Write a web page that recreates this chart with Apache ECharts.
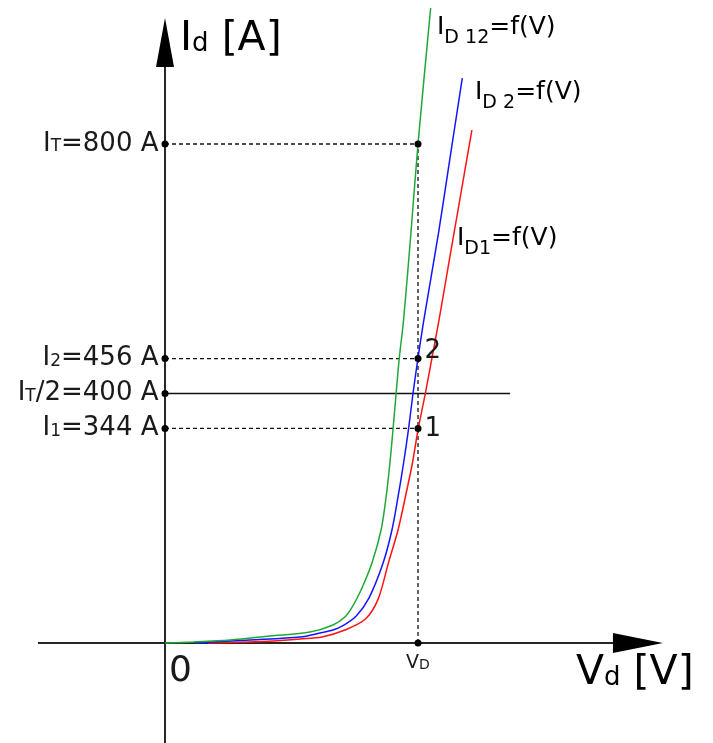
<!DOCTYPE html>
<html>
<head>
<meta charset="utf-8">
<script src="https://cdn.jsdelivr.net/npm/echarts@6/dist/echarts.min.js"></script>
<style>
  html, body { margin: 0; padding: 0; background: #fff; }
  #chart { width: 713px; height: 743px; }
</style>
</head>
<body>
<div id="chart"></div>
<script>
  // voltage axis is measured in units of V_D (V_D = 1), current in A
  const vD = 1;

  // I_D12 = f(V)  (green)
  const voltD12 = [0, 0.111, 0.257, 0.415, 0.573, 0.664, 0.712, 0.743, 0.775, 0.818, 0.854, 0.874, 0.889, 0.901, 0.914, 0.926, 0.943, 0.972, 1.000, 1.050];
  const ampD12 = [0, 1.6, 4.8, 11.2, 17.6, 28.9, 42.0, 60.0, 85.0, 128.3, 181.2, 234.1, 288.6, 341.5, 402.4, 456.9, 517.8, 657.3, 800.0, 1018.0];

  // I_D2 = f(V)  (blue)
  const voltD2 = [0.119, 0.336, 0.534, 0.613, 0.664, 0.700, 0.755, 0.806, 0.862, 0.897, 0.921, 0.943, 0.962, 0.981, 1.000, 1.023, 1.081, 1.121, 1.175];
  const ampD2 = [0, 4.8, 9.6, 16.0, 20.8, 27.0, 43.0, 72.1, 128.3, 181.2, 234.1, 288.6, 341.5, 402.4, 456.9, 517.8, 657.3, 763.1, 905.8];

  // I_D1 = f(V)  (red)
  const voltD1 = [0.170, 0.324, 0.427, 0.534, 0.621, 0.711, 0.791, 0.842, 0.883, 0.921, 0.950, 0.978, 1.000, 1.030, 1.055, 1.083, 1.119, 1.165, 1.213];
  const ampD1 = [0, 1.6, 3.2, 6.4, 9.6, 20.8, 38.0, 70.0, 128.3, 181.2, 234.1, 288.6, 341.5, 402.4, 456.9, 517.8, 602.8, 710.2, 822.4];

  // marked currents on the I axis
  const currentIT = 800;
  const currentI2 = 456;
  const currentHalf = 400;
  const currentI1 = 344;
  const halfLineEnd = 1.364;   // where the I_T/2 line stops

  const zip = (xs, ys) => xs.map((x, i) => [x, ys[i]]);

  const chart = echarts.init(document.getElementById('chart'));

  const txt = '#1a1a1a';
  const fontFam = '"DejaVu Sans", Verdana, sans-serif';
  const leftRich = {
    m: { fontSize: 26, fontFamily: fontFam, color: txt, lineHeight: 28, height: 28, verticalAlign: 'bottom' },
    s: { fontSize: 17, fontFamily: fontFam, color: txt, lineHeight: 22, height: 22, verticalAlign: 'bottom' }
  };
  const leftLabel = (f) => ({ show: true, position: 'left', distance: 3, formatter: f, rich: leftRich });

  function curveRich(color) {
    return {
      m: { fontSize: 25, fontFamily: fontFam, color: color, lineHeight: 30, height: 30, verticalAlign: 'bottom' },
      s: { fontSize: 19, fontFamily: fontFam, color: color, lineHeight: 8, height: 8, verticalAlign: 'bottom' }
    };
  }

  const axisRich = {
    m: { fontSize: 41, fontFamily: fontFam, color: txt, lineHeight: 44, height: 44, verticalAlign: 'bottom' },
    s: { fontSize: 26, fontFamily: fontFam, color: txt, lineHeight: 34, height: 34, verticalAlign: 'bottom' }
  };

  const dashed = { color: '#111', width: 1.3, type: [4, 3] };

  const curveLine = (name, xs, ys, color) => ({
    type: 'line', name: name, data: zip(xs, ys), symbol: 'none', smooth: 0.3,
    lineStyle: { color: color, width: 1.5 }, z: 3
  });

  const option = {
    animation: false,
    grid: { left: 0, right: 0, top: 0, bottom: 0 },
    xAxis: { type: 'value', min: -0.6522, max: 2.166, show: false },
    yAxis: { type: 'value', min: -160.3, max: 1030.9, show: false },
    graphic: [
      { type: 'text', x: 180, y: 39, style: { text: '{m|I}{s|d}{m| [A]}', rich: axisRich, verticalAlign: 'middle' } },
      { type: 'text', x: 576, y: 673, style: { text: '{m|V}{s|d}{m| [V]}', rich: axisRich, verticalAlign: 'middle' } },
      { type: 'text', x: 169, y: 672, style: { text: '0', font: '36px ' + fontFam, fill: txt, verticalAlign: 'middle' } },
      { type: 'text', x: 437, y: 27, style: { text: '{m|I}{s|D 12}{m|=f(V)}', rich: curveRich('#1fa838'), verticalAlign: 'middle' } },
      { type: 'text', x: 475, y: 92, style: { text: '{m|I}{s|D 2}{m|=f(V)}', rich: curveRich('#1414ff'), verticalAlign: 'middle' } },
      { type: 'text', x: 457, y: 238, style: { text: '{m|I}{s|D1}{m|=f(V)}', rich: curveRich('#ff1414'), verticalAlign: 'middle' } }
    ],
    series: [
      {
        type: 'custom',
        name: 'axes',
        silent: true,
        z: 1,
        data: [[0, 0]],
        renderItem: function (params, api) {
          const o = api.coord([0, 0]);
          const xLeft = api.coord([-0.502, 0])[0];
          const xTip = api.coord([1.968, 0])[0];
          const yBottom = api.coord([0, -160.3])[1];
          const yTip = api.coord([0, 1002])[1];
          const st = { stroke: '#262626', lineWidth: 2 };
          return {
            type: 'group',
            children: [
              { type: 'line', shape: { x1: xLeft, y1: o[1], x2: xTip - 45, y2: o[1] }, style: st },
              { type: 'line', shape: { x1: o[0], y1: yBottom, x2: o[0], y2: yTip + 45 }, style: st },
              { type: 'polygon', shape: { points: [[xTip, o[1]], [xTip - 50, o[1] - 10], [xTip - 50, o[1] + 10]] }, style: { fill: '#000' } },
              { type: 'polygon', shape: { points: [[o[0], yTip], [o[0] - 9, yTip + 49], [o[0] + 9, yTip + 49]] }, style: { fill: '#000' } }
            ]
          };
        }
      },
      { type: 'line', name: 'IT', data: [[0, currentIT], [vD, currentIT]], symbol: 'none', lineStyle: dashed, z: 2 },
      { type: 'line', name: 'I2', data: [[0, currentI2], [vD, currentI2]], symbol: 'none', lineStyle: dashed, z: 2 },
      { type: 'line', name: 'I1', data: [[0, currentI1], [vD, currentI1]], symbol: 'none', lineStyle: dashed, z: 2 },
      { type: 'line', name: 'VD', data: [[vD, 0], [vD, currentIT]], symbol: 'none', lineStyle: dashed, z: 2 },
      { type: 'line', name: 'IT/2', data: [[0, currentHalf], [halfLineEnd, currentHalf]], symbol: 'none', lineStyle: { color: '#111', width: 1.4 }, z: 2 },
      curveLine('ID1', voltD1, ampD1, '#ff1414'),
      curveLine('ID2', voltD2, ampD2, '#1414ff'),
      curveLine('ID12', voltD12, ampD12, '#1fa838'),
      {
        type: 'scatter',
        name: 'points',
        symbolSize: 7,
        itemStyle: { color: '#000', opacity: 1 },
        z: 4,
        data: [
          { value: [0, currentIT], label: leftLabel('{m|I}{s|T}{m|=800 A}') },
          { value: [vD, currentIT] },
          { value: [0, currentI2], label: leftLabel('{m|I}{s|2}{m|=456 A}') },
          { value: [vD, currentI2], label: { show: true, position: 'right', distance: 3, offset: [0, -7], formatter: '2', fontSize: 26, fontFamily: fontFam, color: txt } },
          { value: [0, currentHalf], label: leftLabel('{m|I}{s|T}{m|/2=400 A}') },
          { value: [0, currentI1], label: leftLabel('{m|I}{s|1}{m|=344 A}') },
          { value: [vD, currentI1], label: { show: true, position: 'right', distance: 3, offset: [0, 1], formatter: '1', fontSize: 26, fontFamily: fontFam, color: txt } },
          {
            value: [vD, 0],
            label: {
              show: true, position: 'bottom', distance: 7, formatter: '{m|V}{s|D}',
              rich: {
                m: { fontSize: 19, fontFamily: fontFam, color: txt, lineHeight: 20, height: 20, verticalAlign: 'bottom' },
                s: { fontSize: 14, fontFamily: fontFam, color: txt, lineHeight: 17, height: 17, verticalAlign: 'bottom' }
              }
            }
          }
        ]
      }
    ]
  };

  chart.setOption(option);
</script>
</body>
</html>
